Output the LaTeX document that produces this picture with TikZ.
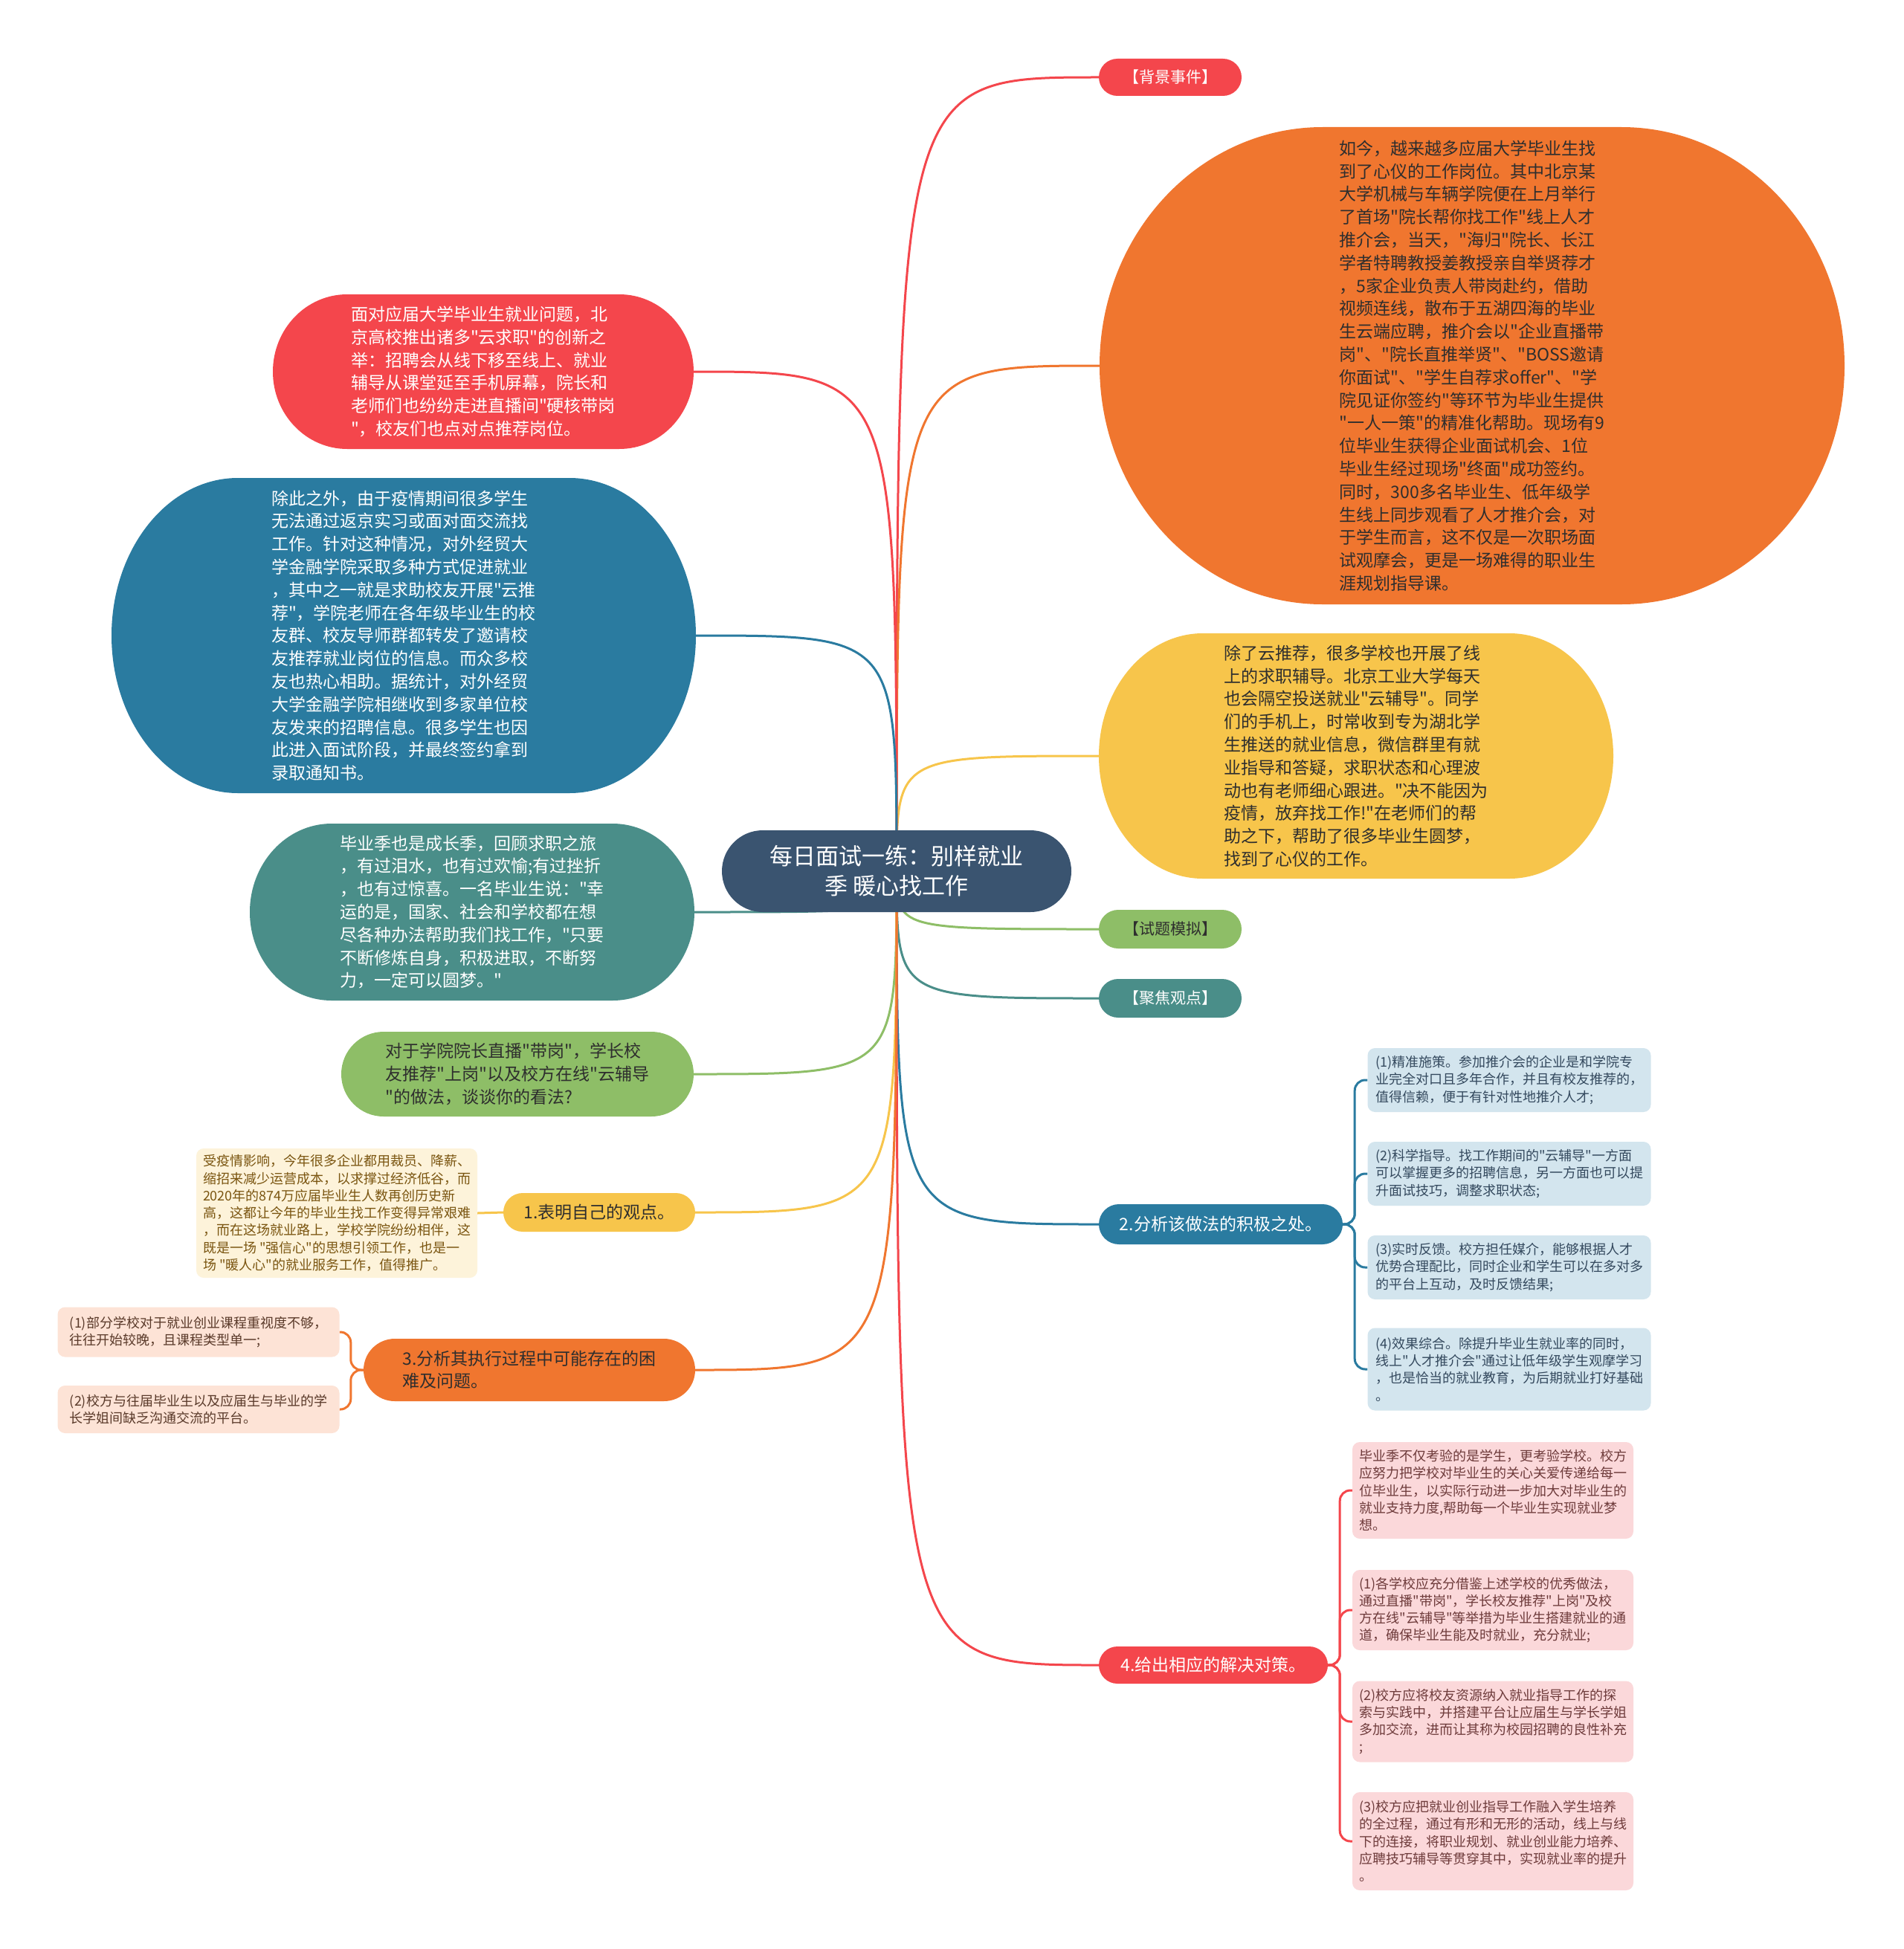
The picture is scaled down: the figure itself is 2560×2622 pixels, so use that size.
\documentclass[tikz,border=0pt]{standalone}
\usepackage{fontspec}
\setmainfont{Noto Sans CJK SC}
\newfontfamily\cjkfam{Noto Sans CJK SC}
\definecolor{cRed}{HTML}{F4464C}
\definecolor{cOrange}{HTML}{F0762F}
\definecolor{cYellow}{HTML}{F7C54B}
\definecolor{cGreen}{HTML}{8EBE67}
\definecolor{cTeal}{HTML}{4A8E89}
\definecolor{cBlue}{HTML}{2A7BA0}
\definecolor{cCenter}{HTML}{3A5470}
\definecolor{cLBlue}{HTML}{D3E5EE}
\definecolor{cLYellow}{HTML}{FDF3DA}
\definecolor{cPeach}{HTML}{FDE3D6}
\definecolor{cPink}{HTML}{FBD8DA}
\definecolor{tDark}{HTML}{2E2E2E}
\definecolor{tBlue}{HTML}{34495E}
\definecolor{tBrown}{HTML}{7A5510}
\definecolor{tPeach}{HTML}{5A3A2A}
\definecolor{tPink}{HTML}{6E3B3B}
\pgfdeclarelayer{bg}
\pgfsetlayers{bg,main}
\newcommand\fbig{\cjkfam\fontsize{23}{30.8}\selectfont}
\newcommand\fcenter{\cjkfam\fontsize{31}{40}\selectfont}
\newcommand\fpill{\cjkfam\fontsize{23}{30}\selectfont}
\newcommand\flabel{\cjkfam\fontsize{21}{26}\selectfont}
\newcommand\fsmallbox{\cjkfam\fontsize{18}{23.3}\selectfont}
\newcommand\blobnode[9]{%
 \path[#8] ({#2-#4+#6},{#3-#5}) -- ({#2+#4-#6},{#3-#5})
  arc[start angle=90,end angle=0,x radius=#6pt,y radius=#7pt] -- ({#2+#4},{#3+#5-#7})
  arc[start angle=0,end angle=-90,x radius=#6pt,y radius=#7pt] -- ({#2-#4+#6},{#3+#5})
  arc[start angle=-90,end angle=-180,x radius=#6pt,y radius=#7pt] -- ({#2-#4},{#3-#5+#7})
  arc[start angle=180,end angle=90,x radius=#6pt,y radius=#7pt] -- cycle;
 \node[inner sep=0pt, align=left, #8, fill=none, draw=none,
   minimum width={2*#4pt}, minimum height={2*#5pt}] (#1) at (#2,#3) {#9};}
\tikzset{
 sRed/.style={fill=cRed, text=white},
 sOrange/.style={fill=cOrange, text=tDark},
 sYellow/.style={fill=cYellow, text=tDark},
 sGreen/.style={fill=cGreen, text=tDark},
 sTeal/.style={fill=cTeal, text=white},
 sBlue/.style={fill=cBlue, text=white},
 sCenter/.style={fill=cCenter, text=white},
 box/.style={rounded corners=10pt, inner sep=0pt, align=left, font=\fsmallbox},
 conn/.style={line width=3pt},
 br/.style={line width=3pt, rounded corners=14pt},
}
\begin{document}
\begin{tikzpicture}[x=1pt,y=-1pt]
\useasboundingbox (0,0) rectangle (2560,2622);
\begin{pgfonlayer}{bg}
\fill[white] (0,0) rectangle (2560,2622);
\end{pgfonlayer}

\blobnode{C}{1206}{1172}{235}{55}{55}{55}{sCenter,font=\fcenter,align=center}{每日面试一练：别样就业\\季 暖心找工作}

\blobnode{bj}{1574}{104}{96}{25}{25}{25}{sRed,font=\flabel}{【背景事件】}
\blobnode{ob}{1980}{492}{501}{321}{300}{321}{sOrange,font=\fbig}{如今，越来越多应届大学毕业生找\\到了心仪的工作岗位。其中北京某\\大学机械与车辆学院便在上月举行\\了首场"院长帮你找工作"线上人才\\推介会，当天，"海归"院长、长江\\学者特聘教授姜教授亲自举贤荐才\\，5家企业负责人带岗赴约，借助\\视频连线，散布于五湖四海的毕业\\生云端应聘，推介会以"企业直播带\\岗"、"院长直推举贤"、"BOSS邀请\\你面试"、"学生自荐求offer"、"学\\院见证你签约"等环节为毕业生提供\\"一人一策"的精准化帮助。现场有9\\位毕业生获得企业面试机会、1位\\毕业生经过现场"终面"成功签约。\\同时，300多名毕业生、低年级学\\生线上同步观看了人才推介会，对\\于学生而言，这不仅是一次职场面\\试观摩会，更是一场难得的职业生\\涯规划指导课。}
\blobnode{yb}{1824}{1017}{346}{165}{140}{165}{sYellow,font=\fbig}{除了云推荐，很多学校也开展了线\\上的求职辅导。北京工业大学每天\\也会隔空投送就业"云辅导"。同学\\们的手机上，时常收到专为湖北学\\生推送的就业信息，微信群里有就\\业指导和答疑，求职状态和心理波\\动也有老师细心跟进。"决不能因为\\疫情，放弃找工作!"在老师们的帮\\助之下，帮助了很多毕业生圆梦，\\找到了心仪的工作。}
\blobnode{st}{1574}{1250}{96}{26}{26}{26}{sGreen,font=\flabel}{【试题模拟】}
\blobnode{jj}{1574}{1343}{96}{26}{26}{26}{sTeal,font=\flabel}{【聚焦观点】}
\blobnode{A2}{1642}{1647}{164}{27}{27}{27}{sBlue,font=\fpill}{2.分析该做法的积极之处。}
\blobnode{A4}{1632}{2240}{154}{25}{25}{25}{sRed,font=\fpill}{4.给出相应的解决对策。}

\blobnode{L1}{650}{500}{283}{104}{100}{104}{sRed,font=\fbig}{面对应届大学毕业生就业问题，北\\京高校推出诸多"云求职"的创新之\\举：招聘会从线下移至线上、就业\\辅导从课堂延至手机屏幕，院长和\\老师们也纷纷走进直播间"硬核带岗\\"，校友们也点对点推荐岗位。}
\blobnode{L2}{543}{855}{393}{212}{170}{212}{sBlue,font=\fbig}{除此之外，由于疫情期间很多学生\\无法通过返京实习或面对面交流找\\工作。针对这种情况，对外经贸大\\学金融学院采取多种方式促进就业\\，其中之一就是求助校友开展"云推\\荐"，学院老师在各年级毕业生的校\\友群、校友导师群都转发了邀请校\\友推荐就业岗位的信息。而众多校\\友也热心相助。据统计，对外经贸\\大学金融学院相继收到多家单位校\\友发来的招聘信息。很多学生也因\\此进入面试阶段，并最终签约拿到\\录取通知书。}
\blobnode{L3}{635}{1227}{299}{119}{110}{119}{sTeal,font=\fbig}{毕业季也是成长季，回顾求职之旅\\，有过泪水，也有过欢愉;有过挫折\\，也有过惊喜。一名毕业生说："幸\\运的是，国家、社会和学校都在想\\尽各种办法帮助我们找工作，"只要\\不断修炼自身，积极进取，不断努\\力，一定可以圆梦。"}
\blobnode{L4}{696}{1445}{237}{57}{57}{57}{sGreen,font=\fbig}{对于学院院长直播"带岗"，学长校\\友推荐"上岗"以及校方在线"云辅导\\"的做法，谈谈你的看法?}
\blobnode{A1}{806}{1631}{129}{26}{26}{26}{sYellow,font=\fpill}{1.表明自己的观点。}
\blobnode{A3}{712}{1843}{223}{42}{42}{42}{sOrange,font=\fpill}{3.分析其执行过程中可能存在的困\\难及问题。}

% children of 2
\node[box, fill=cLBlue, text=tBlue, minimum width=381pt, minimum height=86pt] (b1) at (2030,1453) {(1)精准施策。参加推介会的企业是和学院专\\业完全对口且多年合作，并且有校友推荐的，\\值得信赖，便于有针对性地推介人才;};
\node[box, fill=cLBlue, text=tBlue, minimum width=381pt, minimum height=86pt] (b2) at (2030,1579) {(2)科学指导。找工作期间的"云辅导"一方面\\可以掌握更多的招聘信息，另一方面也可以提\\升面试技巧，调整求职状态;};
\node[box, fill=cLBlue, text=tBlue, minimum width=381pt, minimum height=86pt] (b3) at (2030,1705) {(3)实时反馈。校方担任媒介，能够根据人才\\优势合理配比，同时企业和学生可以在多对多\\的平台上互动，及时反馈结果;};
\node[box, fill=cLBlue, text=tBlue, minimum width=381pt, minimum height=111pt] (b4) at (2030,1842) {(4)效果综合。除提升毕业生就业率的同时，\\线上"人才推介会"通过让低年级学生观摩学习\\，也是恰当的就业教育，为后期就业打好基础\\。};

% children of 4
\node[box, fill=cPink, text=tPink, minimum width=378pt, minimum height=130pt] (r1) at (2008,2005) {毕业季不仅考验的是学生，更考验学校。校方\\应努力把学校对毕业生的关心关爱传递给每一\\位毕业生，以实际行动进一步加大对毕业生的\\就业支持力度,帮助每一个毕业生实现就业梦\\想。};
\node[box, fill=cPink, text=tPink, minimum width=378pt, minimum height=108pt] (r2) at (2008,2166) {(1)各学校应充分借鉴上述学校的优秀做法，\\通过直播"带岗"，学长校友推荐"上岗"及校\\方在线"云辅导"等举措为毕业生搭建就业的通\\道，确保毕业生能及时就业，充分就业;};
\node[box, fill=cPink, text=tPink, minimum width=378pt, minimum height=109pt] (r3) at (2008,2316) {(2)校方应将校友资源纳入就业指导工作的探\\索与实践中，并搭建平台让应届生与学长学姐\\多加交流，进而让其称为校园招聘的良性补充\\;};
\node[box, fill=cPink, text=tPink, minimum width=378pt, minimum height=132pt] (r4) at (2008,2477) {(3)校方应把就业创业指导工作融入学生培养\\的全过程，通过有形和无形的活动，线上与线\\下的连接，将职业规划、就业创业能力培养、\\应聘技巧辅导等贯穿其中，实现就业率的提升\\。};

% child of 1
\node[box, fill=cLYellow, text=tBrown, minimum width=378pt, minimum height=174pt] (y1) at (453,1632) {受疫情影响，今年很多企业都用裁员、降薪、\\缩招来减少运营成本，以求撑过经济低谷，而\\2020年的874万应届毕业生人数再创历史新\\高，这都让今年的毕业生找工作变得异常艰难\\，而在这场就业路上，学校学院纷纷相伴，这\\既是一场 "强信心"的思想引领工作，也是一\\场 "暖人心"的就业服务工作，值得推广。};

% children of 3
\node[box, fill=cPeach, text=tPeach, minimum width=379pt, minimum height=67pt] (p1) at (267,1792) {(1)部分学校对于就业创业课程重视度不够，\\往往开始较晚，且课程类型单一;};
\node[box, fill=cPeach, text=tPeach, minimum width=379pt, minimum height=64pt] (p2) at (267,1896) {(2)校方与往届毕业生以及应届生与毕业的学\\长学姐间缺乏沟通交流的平台。};

\begin{pgfonlayer}{bg}
\draw[conn, cRed] (C.center) .. controls (C.center |- bj.west) and (C.center |- bj.west) .. (bj.west);
\draw[conn, cOrange] (C.center) .. controls (C.center |- ob.west) and (C.center |- ob.west) .. (ob.west);
\draw[conn, cYellow] (C.center) .. controls (C.center |- yb.west) and (C.center |- yb.west) .. (yb.west);
\draw[conn, cGreen] (C.center) .. controls (C.center |- st.west) and (C.center |- st.west) .. (st.west);
\draw[conn, cTeal] (C.center) .. controls (C.center |- jj.west) and (C.center |- jj.west) .. (jj.west);
\draw[conn, cBlue] (C.center) .. controls (C.center |- A2.west) and (C.center |- A2.west) .. (A2.west);
\draw[conn, cRed] (C.center) .. controls (C.center |- A4.west) and (C.center |- A4.west) .. (A4.west);
\draw[conn, cRed] (C.center) .. controls (C.center |- L1.east) and (C.center |- L1.east) .. (L1.east);
\draw[conn, cBlue] (C.center) .. controls (C.center |- L2.east) and (C.center |- L2.east) .. (L2.east);
\draw[conn, cTeal] (C.center) .. controls (C.center |- L3.east) and (C.center |- L3.east) .. (L3.east);
\draw[conn, cGreen] (C.center) .. controls (C.center |- L4.east) and (C.center |- L4.east) .. (L4.east);
\draw[conn, cYellow] (C.center) .. controls (C.center |- A1.east) and (C.center |- A1.east) .. (A1.east);
\draw[conn, cOrange] (C.center) .. controls (C.center |- A3.east) and (C.center |- A3.east) .. (A3.east);

\draw[br, cBlue] (A2.east) -- ++(16,0) |- (b1.west);
\draw[br, cBlue] (A2.east) -- ++(16,0) |- (b2.west);
\draw[br, cBlue] (A2.east) -- ++(16,0) |- (b3.west);
\draw[br, cBlue] (A2.east) -- ++(16,0) |- (b4.west);
\draw[br, cRed] (A4.east) -- ++(16,0) |- (r1.west);
\draw[br, cRed] (A4.east) -- ++(16,0) |- (r2.west);
\draw[br, cRed] (A4.east) -- ++(16,0) |- (r3.west);
\draw[br, cRed] (A4.east) -- ++(16,0) |- (r4.west);
\draw[br, cOrange] (A3.west) -- ++(-17,0) |- (p1.east);
\draw[br, cOrange] (A3.west) -- ++(-17,0) |- (p2.east);
\draw[conn, cYellow] (A1.west) -- (y1.east);
\end{pgfonlayer}
\end{tikzpicture}
\end{document}
